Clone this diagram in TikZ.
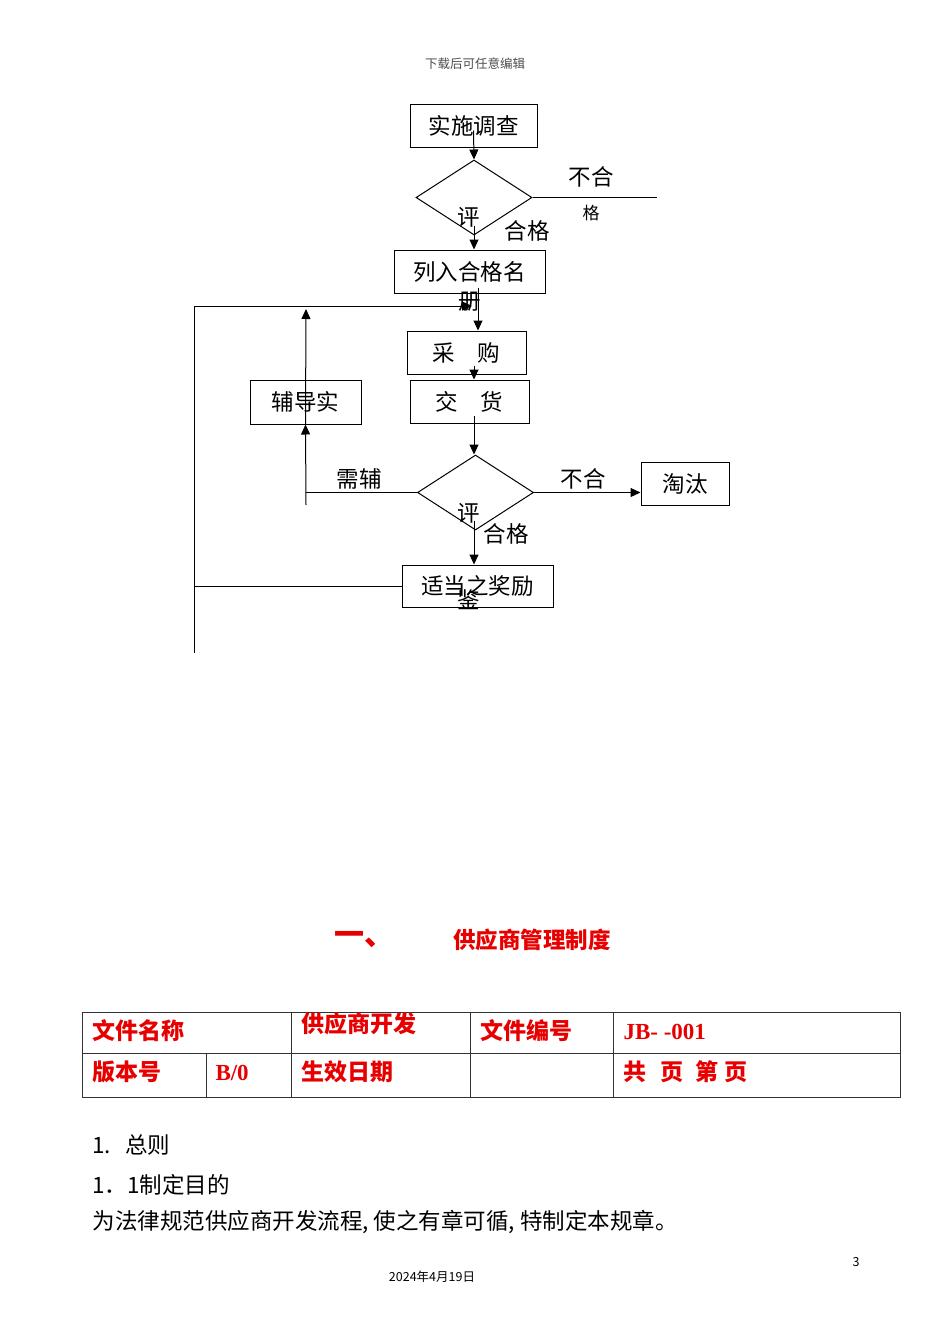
\documentclass[tikz,border=0pt]{standalone}
\usepackage{fontspec}
\setmainfont{Liberation Serif}
\newfontfamily\cjk{Noto Sans CJK SC}
\usetikzlibrary{arrows.meta,shapes,positioning,calc}
\definecolor{docred}{RGB}{232,0,0}

\begin{document}
\begin{tikzpicture}[
            x=1pt, y=-1pt,
            line width=1pt,
            box/.style={rectangle, draw, minimum height=43, inner sep=0pt, font=\cjk\fontsize{22.5}{27}\selectfont},
            decide/.style={diamond, draw, minimum width=116, minimum height=75, inner sep=0pt},
            lab/.style={inner sep=0pt, font=\cjk\fontsize{22.5}{27}\selectfont},
            cell/.style={anchor=west, inner sep=0pt, text=docred, font=\cjk\bfseries\fontsize{23}{27}\selectfont},
            small/.style={inner sep=0pt, font=\cjk\fontsize{12.5}{15}\selectfont},
            arr/.style={-{Triangle[length=10pt,width=9pt]}}
        ]

\fill[white] (0,0) rectangle (950,1344);
\useasboundingbox (0,0) rectangle (950,1344);

% --- header ---
            \node[small, text=black!70] (head) at (475,64) {下载后可任意编辑};

% --- flow boxes ---
            \node[box, minimum width=127] (survey) at (473.5,125.5) {实施调查};
            \node[decide] (eval1) at (474,197.5) {};
            \node[box, minimum width=151] (list) at (469.5,271.5) {列入合格名};
            \node[box, minimum width=119] (purchase) at (466.5,352.5) {采　购};
            \node[box, minimum width=119] (delivery) at (469.5,401.5) {交　货};
            \node[box, minimum width=111, minimum height=44] (guide) at (305.5,402) {辅导实};
            \node[decide] (eval2) at (475.5,492.5) {};
            \node[box, minimum width=88] (drop) at (685,483.5) {淘汰};
            \node[box, minimum width=151, minimum height=42] (reward) at (477.5,586) {适当之奖励};

% --- free ends ---
            \coordinate (fail1) at (657,197.5);
            \coordinate (loopT) at (194,306);
            \coordinate (loopB) at (194,653);
            \coordinate (listIn) at (472,306);
            \coordinate (needB) at (306,505);
            \coordinate (needT) at (306,309);

% --- main column ---
            \draw[arr] ([yshift=17pt]survey.south) -- (eval1.north);
            \draw (eval1.east) -- (eval1.east -| fail1);
            \draw[arr] ([yshift=10pt]eval1.south) -- (eval1.south |- list.north);
            \draw[arr] ([xshift=8.5pt,yshift=6pt]list.south) -- ([xshift=8.5pt]list.south |- purchase.north);
            \draw[arr] ([yshift=9pt]purchase.south -| eval1.north) -- (delivery.north -| eval1.north);
            \draw[arr] ([yshift=8pt]delivery.south -| eval1.north) -- (eval1.north |- eval2.north);
            \draw[arr] ([yshift=10pt]eval1.south |- eval2.south) -- (eval1.south |- reward.north);
            \draw[arr] (eval2.east) -- (eval2.east -| drop.west);

% --- guidance and loop back ---
            \draw (eval2.west) -- (eval2.west -| needB);
            \draw[arr] (needB) -- (guide.south);
            \draw[arr] (guide.south) -- (needT);
            \draw (loopT) -- (loopB);
            \draw[arr] (loopT) -- (listIn);
            \draw (reward.west) -- (reward.west -| loopT);

% --- edge labels ---
            \node[lab] (no1) at (591,177) {不合};
            \node[lab, font=\cjk\fontsize{17}{20}\selectfont] (no1b) at (591,213) {格};
            \node[lab] (ping1) at (469,217) {评};
            \node[lab] (ok1) at (527,231) {合格};
            \node[lab] (ce) at (470,302) {册};
            \node[lab] (need) at (359,479) {需辅};
            \node[lab] (no2) at (583,479) {不合};
            \node[lab] (ping2) at (469,513) {评};
            \node[lab] (ok2) at (506,534) {合格};
            \node[lab] (jian) at (469,600) {鉴};

% --- title ---
            \node[inner sep=0pt, text=docred, font=\cjk\bfseries\fontsize{30}{34}\selectfont] (num) at (364,940) {一、};
            \node[inner sep=0pt, text=docred, font=\cjk\bfseries\fontsize{22.5}{27}\selectfont] (title) at (532,940) {供应商管理制度};

% --- table ---
            \draw[black!80] (82,1012) rectangle (900,1097);
            \draw[black!80] (82,1053) -- (900,1053);
            \foreach \x in {291,470,613}
                \draw[black!80] (\x,1012) -- (\x,1097);
            \draw[black!80] (206,1053) -- (206,1097);

            \node[cell] (c11) at (92,1031) {文件名称};
            \node[cell] (c12) at (301,1024) {供应商开发};
            \node[cell] (c13) at (480,1031) {文件编号};
            \node[cell, font=\bfseries\fontsize{23}{27}\selectfont] (c14) at (623,1032) {JB- -001};
            \node[cell] (c21) at (92,1072) {版本号};
            \node[cell, font=\bfseries\fontsize{23}{27}\selectfont] (c22) at (215,1073) {B/0};
            \node[cell] (c23) at (301,1072) {生效日期};
            \node[cell] (c25) at (623,1072) {共\hspace{14pt}页\hspace{12pt}第\hspace{6pt}页};

% --- body text ---
            \node[lab, anchor=west] (p1) at (92,1145) {1.\hspace{14pt}总则};
            \node[lab, anchor=west] (p2) at (92,1185) {1．1制定目的};
            \node[lab, anchor=west] (p3) at (92,1222) {为法律规范供应商开发流程, 使之有章可循, 特制定本规章。};

% --- footer ---
            \node[small] (page) at (856,1262) {3};
            \node[small] (date) at (432,1277) {2024年4月19日};

        \end{tikzpicture}
\end{document}
